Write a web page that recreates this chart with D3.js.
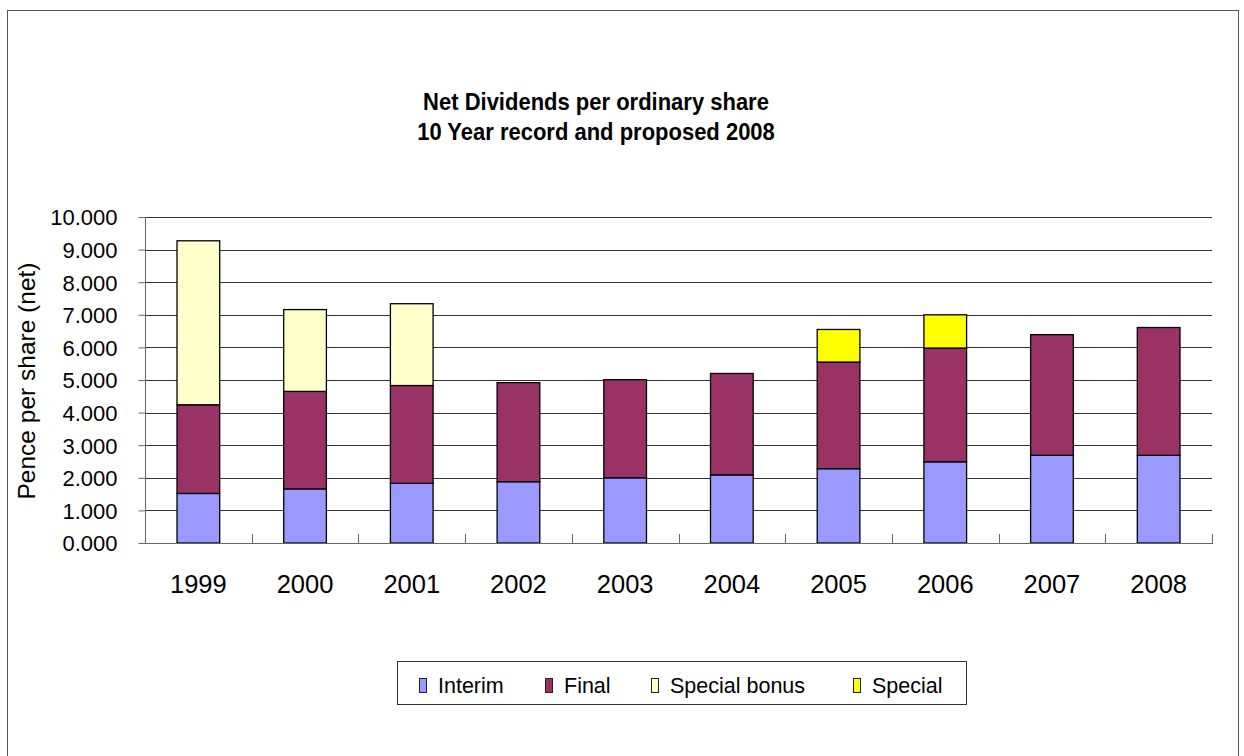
<!DOCTYPE html>
<html>
<head>
<meta charset="utf-8">
<script src="https://cdn.jsdelivr.net/npm/d3@7"></script>
<style>
  body { margin: 0; background: #fff; }
  text { font-family: Arial, "Liberation Sans", sans-serif; fill: #000; }
</style>
</head>
<body>
<div class="chart"></div>
<script>
var years = ['1999', '2000', '2001', '2002', '2003', '2004', '2005', '2006', '2007', '2008']
var interim = [1.52, 1.66, 1.83, 1.88, 2.00, 2.09, 2.28, 2.49, 2.69, 2.69]
var final = [2.72, 2.99, 3.00, 3.04, 3.01, 3.11, 3.27, 3.49, 3.70, 3.92]
var specialBonus = [5.03, 2.51, 2.51, 0, 0, 0, 0, 0, 0, 0]
var special = [0, 0, 0, 0, 0, 0, 1.00, 1.02, 0, 0]
var seriesNames = ['Interim', 'Final', 'Special bonus', 'Special']
var colors = ['#9999FF', '#993366', '#FFFFCC', '#FFFF00']
var yTicks = [0, 1, 2, 3, 4, 5, 6, 7, 8, 9, 10]

var rows = years.map((y, i) => ({
    year: y,
    'Interim': interim[i],
    'Final': final[i],
    'Special bonus': specialBonus[i],
    'Special': special[i]
}))

var svg = d3.select('.chart')
    .append('svg')
    .attr('width', 1244)
    .attr('height', 756)

// outer frame
svg.append('rect')
    .attr('x', 7.5).attr('y', 10.5)
    .attr('width', 1231).attr('height', 760)
    .attr('fill', 'none')
    .attr('stroke', '#555')

var plotL = 145, plotR = 1212, plotT = 217, plotB = 543

var x = d3.scaleBand()
    .domain(years)
    .range([plotL, plotR])
    .paddingInner(0.6)
    .paddingOuter(0.3)

var y = d3.scaleLinear()
    .domain([0, 10])
    .range([plotB, plotT])

// gridlines
svg.append('g')
    .selectAll('line')
    .data(yTicks.slice(1))
    .enter()
    .append('line')
    .attr('x1', plotL).attr('x2', plotR)
    .attr('y1', d => Math.round(y(d)) + 0.5)
    .attr('y2', d => Math.round(y(d)) + 0.5)
    .attr('stroke', '#333')

var stack = d3.stack().keys(seriesNames)(rows)

svg.append('g')
    .selectAll('g')
    .data(stack)
    .enter()
    .append('g')
    .attr('fill', (d, i) => colors[i])
    .selectAll('rect')
    .data(d => d.filter(s => s[1] - s[0] > 0))
    .enter()
    .append('rect')
    .attr('x', d => x(d.data.year))
    .attr('y', d => y(d[1]))
    .attr('width', x.bandwidth())
    .attr('height', d => y(d[0]) - y(d[1]))
    .attr('stroke', '#000')
    .attr('stroke-width', 1.3)

// y axis
var yAxis = svg.append('g')
    .attr('transform', 'translate(' + (plotL + 0.5) + ',0)')
    .call(d3.axisLeft(y).tickValues(yTicks).tickFormat(d3.format('.3f')).tickSize(7).tickPadding(21))
yAxis.selectAll('path, line').attr('stroke', '#666')
yAxis.select('.domain').attr('d', 'M0,' + plotT + 'V' + (plotB + 0.5))
yAxis.selectAll('text')
    .attr('font-family', null)
    .attr('font-size', null)
    .style('font-size', '22px')
    .attr('dy', '0.36em')

// x axis, ticks between categories pointing up
var step = x.step()
var bounds = d3.range(years.length + 1).map(i => plotL + i * step)
var xg = svg.append('g')
xg.append('line')
    .attr('x1', plotL).attr('x2', plotR)
    .attr('y1', plotB + 0.5).attr('y2', plotB + 0.5)
    .attr('stroke', '#666')
xg.selectAll('.tk')
    .data(bounds)
    .enter()
    .append('line')
    .attr('x1', d => Math.round(d) + 0.5).attr('x2', d => Math.round(d) + 0.5)
    .attr('y1', plotB - 9).attr('y2', plotB + 1)
    .attr('stroke', '#666')
xg.selectAll('text')
    .data(years)
    .enter()
    .append('text')
    .attr('x', d => x(d) + x.bandwidth() / 2)
    .attr('y', 593)
    .attr('text-anchor', 'middle')
    .style('font-size', '25.5px')
    .text(d => d)

// axis title
svg.append('text')
    .attr('transform', 'translate(35,381) rotate(-90)')
    .attr('text-anchor', 'middle')
    .style('font-size', '24.5px')
    .text('Pence per share  (net)')

// chart title, slightly stretched vertically like the original
var title = svg.append('text')
    .attr('text-anchor', 'middle')
    .attr('transform', 'translate(596,0) scale(1,1.12)')
    .style('font-size', '22px')
    .style('font-weight', 'bold')
title.append('tspan').attr('x', 0).attr('y', 110 / 1.12).text('Net Dividends per ordinary share')
title.append('tspan').attr('x', 0).attr('y', 140 / 1.12).text('10 Year record and proposed 2008')

// legend
var legend = svg.append('g')
legend.append('rect')
    .attr('x', 397.5).attr('y', 661.5)
    .attr('width', 569).attr('height', 43)
    .attr('fill', '#fff')
    .attr('stroke', '#333')

var legendX = [419, 545, 651, 853]
var item = legend.selectAll('.item')
    .data(seriesNames)
    .enter()
    .append('g')
    .attr('transform', (d, i) => 'translate(' + legendX[i] + ',0)')
item.append('rect')
    .attr('x', 0.5).attr('y', 678.5)
    .attr('width', 7).attr('height', 14)
    .attr('fill', (d, i) => colors[i])
    .attr('stroke', '#222')
item.append('text')
    .attr('x', 19)
    .attr('y', 693)
    .style('font-size', '21.5px')
    .text(d => d)
</script>
</body>
</html>
